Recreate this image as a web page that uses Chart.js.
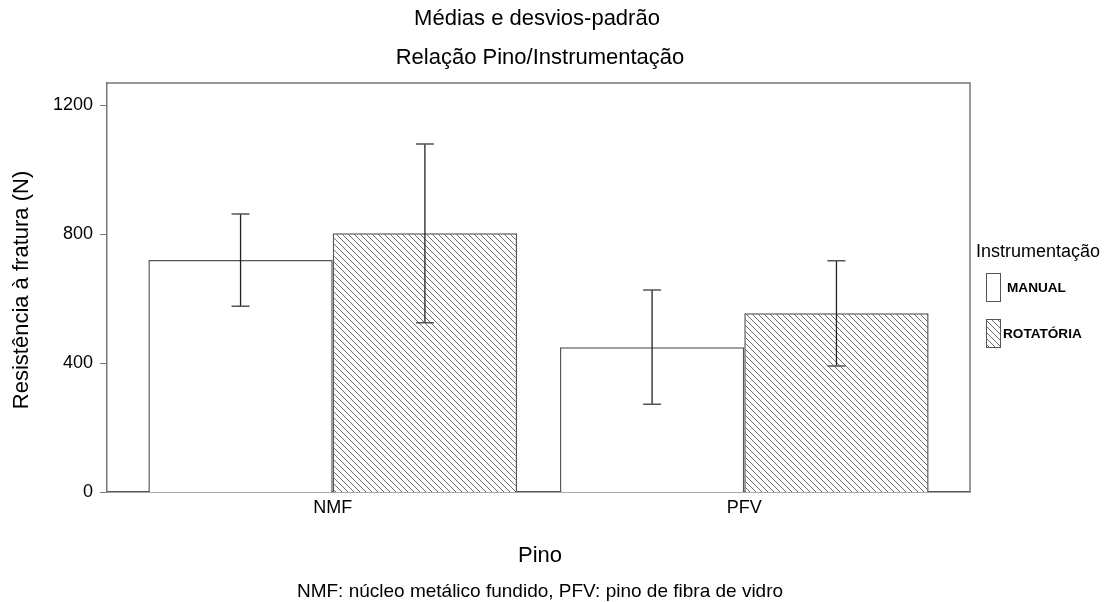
<!DOCTYPE html>
<html>
<head>
<meta charset="utf-8">
<script src="https://cdn.jsdelivr.net/npm/chart.js@4/dist/chart.umd.min.js"></script>
<style>
  html, body { margin: 0; padding: 0; background: #fff; }
  #wrap { width: 1107px; height: 602px; }
</style>
</head>
<body>
<div id="wrap"><canvas id="myGraph"></canvas></div>
<script>
// dados
const pinos = ["NMF", "PFV"];
const grupos = ["MANUAL", "ROTATÓRIA"];
const mediaManual = [719, 449];
const mediaRotatoria = [802, 554];
const dpManual = [143, 177];
const dpRotatoria = [277, 163];
const yTicks = [0, 400, 800, 1200];

const fonte = "'Liberation Sans', Arial, sans-serif";

// padrão hachurado (\\\)
function hatch() {
    const c = document.createElement('canvas');
    c.width = 6; c.height = 6;
    const g = c.getContext('2d');
    g.fillStyle = '#fff';
    g.fillRect(0, 0, 6, 6);
    g.strokeStyle = '#6f6f6f';
    g.lineWidth = 1;
    g.beginPath();
    g.moveTo(-1, -1); g.lineTo(7, 7);
    g.moveTo(-7, -1); g.lineTo(1, 7);
    g.moveTo(5, -1); g.lineTo(13, 7);
    g.stroke();
    return g.createPattern(c, 'repeat');
}
const hachura = hatch();

// barras de erro + moldura + textos
const extras = {
    id: 'extras',
    afterDatasetsDraw(chart) {
        const ctx = chart.ctx;
        const y = chart.scales.y;
        const a = chart.chartArea;
        [dpManual, dpRotatoria].forEach((dp, i) => {
            const meta = chart.getDatasetMeta(i);
            const medias = i === 0 ? mediaManual : mediaRotatoria;
            meta.data.forEach((bar, j) => {
                const top = y.getPixelForValue(medias[j] + dp[j]);
                const bot = y.getPixelForValue(medias[j] - dp[j]);
                ctx.save();
                ctx.strokeStyle = '#222';
                ctx.lineWidth = 1.3;
                ctx.beginPath();
                ctx.moveTo(bar.x, top); ctx.lineTo(bar.x, bot);
                ctx.stroke();
                ctx.strokeStyle = '#555';
                ctx.lineWidth = 1.5;
                ctx.beginPath();
                ctx.moveTo(bar.x - 9, top); ctx.lineTo(bar.x + 9, top);
                ctx.moveTo(bar.x - 9, bot); ctx.lineTo(bar.x + 9, bot);
                ctx.stroke();
                ctx.restore();
            });
        });
        // moldura
        ctx.save();
        ctx.strokeStyle = '#777';
        ctx.lineWidth = 1.5;
        ctx.beginPath();
        ctx.moveTo(a.left, a.top); ctx.lineTo(a.right, a.top); ctx.lineTo(a.right, a.bottom);
        ctx.stroke();
        // marcas do eixo y
        ctx.beginPath();
        yTicks.forEach(v => {
            const py = Math.round(y.getPixelForValue(v)) + 0.5;
            ctx.moveTo(a.left - 7, py); ctx.lineTo(a.left, py);
        });
        ctx.lineWidth = 1.2;
        ctx.stroke();
        ctx.restore();
    },
    afterDraw(chart) {
        const ctx = chart.ctx;
        ctx.save();
        ctx.fillStyle = '#000';
        ctx.textAlign = 'center';
        ctx.textBaseline = 'middle';
        ctx.font = '22px ' + fonte;
        ctx.fillText('Médias e desvios-padrão', 537, 19);
        ctx.fillText('Relação Pino/Instrumentação', 540, 58);
        ctx.font = '22px ' + fonte;
        ctx.fillText('Pino', 540, 556);
        ctx.font = '19px ' + fonte;
        ctx.fillText('NMF: núcleo metálico fundido, PFV: pino de fibra de vidro', 540, 592);
        ctx.save();
        ctx.translate(22, 290);
        ctx.rotate(-Math.PI / 2);
        ctx.font = '22px ' + fonte;
        ctx.fillText('Resistência à fratura (N)', 0, 0);
        ctx.restore();
        // legenda
        ctx.textAlign = 'left';
        ctx.font = '18px ' + fonte;
        ctx.fillText('Instrumentação', 976, 252);
        const cores = ['#fff', hachura];
        grupos.forEach((g, i) => {
            const yy = 273 + i * 46;
            ctx.fillStyle = cores[i];
            ctx.fillRect(986, yy, 14, 28);
            ctx.strokeStyle = '#555';
            ctx.lineWidth = 1;
            ctx.strokeRect(986.5, yy + 0.5, 14, 28);
            ctx.fillStyle = '#000';
            ctx.font = 'bold 13.6px ' + fonte;
            ctx.fillText(g, i === 0 ? 1007 : 1003, yy + 15);
        });
        ctx.restore();
    }
};

new Chart(document.getElementById('myGraph'), {
    type: 'bar',
    data: {
        datasets: [{
            label: grupos[0],
            data: pinos.map((p, i) => ({x: i + 1, y: mediaManual[i]})),
            backgroundColor: '#fff',
            borderColor: '#555',
            borderWidth: 1.5
        }, {
            label: grupos[1],
            data: pinos.map((p, i) => ({x: i + 1, y: mediaRotatoria[i]})),
            backgroundColor: hachura,
            borderColor: '#555',
            borderWidth: 1.5
        }]
    },
    options: {
        responsive: true,
        maintainAspectRatio: false,
        animation: false,
        events: [],
        categoryPercentage: 0.896,
        barPercentage: 1,
        layout: { padding: { left: 0, top: 83, right: 137, bottom: 0 } },
        plugins: { legend: { display: false }, tooltip: { enabled: false } },
        scales: {
            x: {
                type: 'linear',
                min: 0.4515,
                max: 2.5485,
                offset: false,
                afterFit(s) { s.height = 110; },
                afterBuildTicks(s) { s.ticks = pinos.map((p, i) => ({value: i + 1})); },
                ticks: {
                    callback: (v) => pinos[v - 1] || '',
                    color: '#000',
                    font: { family: fonte, size: 18 },
                    padding: 5
                },
                grid: { display: false, drawTicks: false },
                border: { color: '#555', width: 1.5 }
            },
            y: {
                min: 0,
                max: 1268,
                afterFit(s) { s.width = 107; },
                afterBuildTicks(s) { s.ticks = yTicks.map(v => ({value: v})); },
                ticks: {
                    callback: (v) => String(v),
                    color: '#000',
                    font: { family: fonte, size: 18 },
                    padding: 4
                },
                grid: { display: false, drawTicks: true, tickLength: 10 },
                border: { color: '#777', width: 1.5 }
            }
        }
    },
    plugins: [extras]
});
</script>
</body>
</html>
